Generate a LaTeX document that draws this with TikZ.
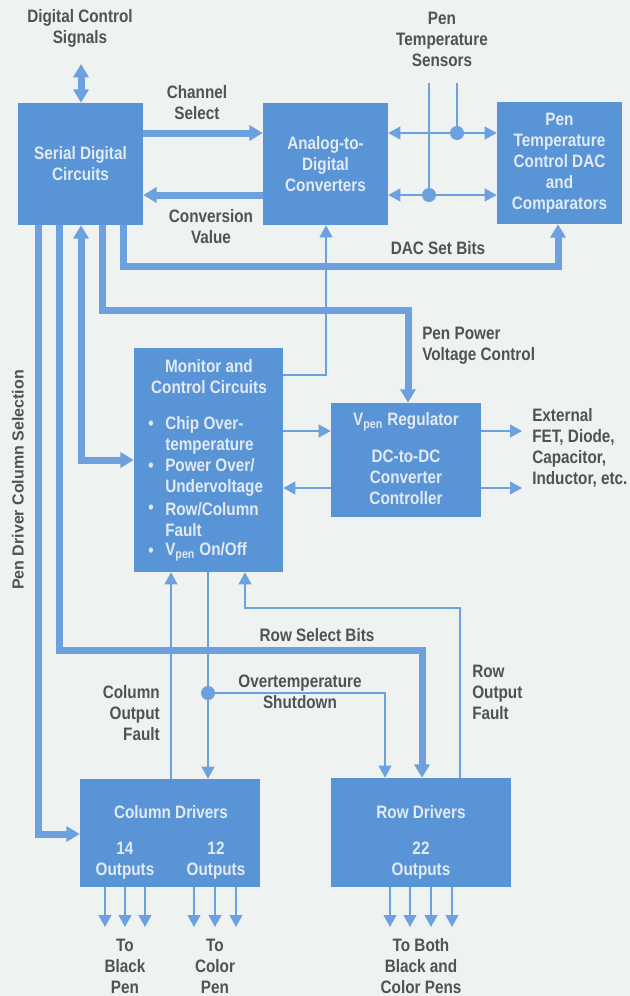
\documentclass[tikz,border=0pt]{standalone}
\usepackage{fontspec}
\setmainfont{Liberation Sans}[FakeStretch=0.85]
\newfontfamily\sidefont{Liberation Sans}
\usetikzlibrary{arrows.meta}
\definecolor{paper}{RGB}{238,243,242}
\definecolor{boxblue}{RGB}{88,148,214}
\definecolor{lineblue}{RGB}{108,160,222}
\definecolor{boxtext}{RGB}{226,234,244}
\definecolor{ink}{RGB}{80,82,86}

\begin{document}
\begin{tikzpicture}[x=.75pt, y=-.75pt,
  every node/.style={font=\bfseries\fontsize{13.5}{15.75}\selectfont, text=ink, align=center, inner sep=0pt},
  box/.style={rectangle, fill=boxblue, text=boxtext},
  intext/.style={text=boxtext},
  bus/.style={draw=lineblue, line width=5.25pt, >={Triangle[width=11.25pt,length=10pt]}},
  wire/.style={draw=lineblue, line width=1.5pt, >={Triangle[width=9.5pt,length=9pt]}},
  dot/.style={circle, fill=lineblue, minimum size=10.5pt}]
\path[use as bounding box, fill=paper] (0,0) rectangle (630,996);

\node[box, minimum width=93.75pt, minimum height=91.5pt] (sdc) at (80.5,164) {Serial Digital\\Circuits};
\node[box, minimum width=93.75pt, minimum height=91.5pt] (adc) at (325.5,164) {Analog-to-\\Digital\\Converters};
\node[box, minimum width=93.75pt, minimum height=91.5pt] (dac) at (559.5,163) {Pen\\Temperature\\Control DAC\\and\\Comparators};
\node[box, minimum width=111.75pt, minimum height=168pt] (mon) at (208.5,460) {};
\node[box, minimum width=112.5pt, minimum height=85.5pt] (vpen) at (406,460) {};
\node[box, minimum width=135pt, minimum height=81pt] (coldrv) at (170,833) {};
\node[box, minimum width=135pt, minimum height=81.75pt] (rowdrv) at (421,832.5) {};

\node[intext] (montitle) at (209,377) {Monitor and\\Control Circuits};
\node[intext] (bul1) at (151,425) {\textbullet};
\node[intext, anchor=west, align=left] (item1) at (165,435) {Chip Over-\\temperature};
\node[intext] (bul2) at (151,467) {\textbullet};
\node[intext, anchor=west, align=left] (item2) at (165,477.5) {Power Over/\\Undervoltage};
\node[intext] (bul3) at (151,509) {\textbullet};
\node[intext, anchor=west, align=left] (item3) at (165,519.5) {Row/Column\\Fault};
\node[intext] (bul4) at (151,552) {\textbullet};
\node[intext, anchor=west, align=left] (item4) at (165,552) {V\textsubscript{pen} On/Off};
\node[intext] (vpentitle) at (406,422) {V\textsubscript{pen} Regulator};
\node[intext] (vpensub) at (406,477.5) {DC-to-DC\\Converter\\Controller};
\node[intext] (coltitle) at (171,812) {Column Drivers};
\node[intext] (col14) at (125,861) {14\\Outputs};
\node[intext] (col12) at (216,861) {12\\Outputs};
\node[intext] (rowtitle) at (421,812) {Row Drivers};
\node[intext] (row22) at (421,861) {22\\Outputs};

\node (dcs) at (80,28.5) {Digital Control\\Signals};
\node (chsel) at (197,102.5) {Channel\\Select};
\node (convval) at (211,226.5) {Conversion\\Value};
\node (pts) at (442,39) {Pen\\Temperature\\Sensors};
\node (dacbits) at (438,248) {DAC Set Bits};
\node[anchor=west, align=left] (ppvc) at (422,346) {Pen Power\\Voltage Control};
\node[anchor=west, align=left] (ext) at (532,447.5) {External\\FET, Diode,\\Capacitor,\\Inductor, etc.};
\node[rotate=90, font=\sidefont\bfseries\fontsize{12}{14}\selectfont] (pdcs) at (18,480) {Pen Driver Column Selection};
\node (rsb) at (317,635) {Row Select Bits};
\node[anchor=east, align=right] (cof) at (160,713) {Column\\Output\\Fault};
\node (ots) at (300,692) {Overtemperature\\Shutdown};
\node[anchor=west, align=left] (rof) at (472,692) {Row\\Output\\Fault};
\node (toblack) at (125,966) {To\\Black\\Pen};
\node (tocolor) at (215,966) {To\\Color\\Pen};
\node (toboth) at (421,966) {To Both\\Black and\\Color Pens};

\node[dot] (dotA) at (457,133) {};
\node[dot] (dotB) at (429,195) {};
\node[dot] (dotC) at (208,693) {};

\coordinate (dcsA) at (81,64);
\coordinate (ch) at (200,133);
\coordinate (cv) at (200,195);
\coordinate (sensA) at (457,83);
\coordinate (sensB) at (429,83);
\coordinate (dacA) at (123,266);
\coordinate (dacB) at (558,266);
\coordinate (ppA) at (102,310);
\coordinate (ppB) at (408,310);
\coordinate (adA) at (326,375);
\coordinate (ctlA) at (81,460);
\coordinate (vo1) at (522,431);
\coordinate (vo2) at (522,488);
\coordinate (csA) at (38,834);
\coordinate (rsA) at (59,650);
\coordinate (rsB) at (422,650);
\coordinate (cofA) at (171,700);
\coordinate (otA) at (385,693);
\coordinate (rofA) at (245,608);
\coordinate (rofB) at (460,608);
\coordinate (b1) at (105,927);
\coordinate (b2) at (125,927);
\coordinate (b3) at (145,927);
\coordinate (c1) at (194,927);
\coordinate (c2) at (215,927);
\coordinate (c3) at (236,927);
\coordinate (r1) at (390,927);
\coordinate (r2) at (410,927);
\coordinate (r3) at (431,927);
\coordinate (r4) at (452,927);

\draw[bus, <->] (dcsA) -- (sdc.north -| dcsA);
\draw[bus, ->] (sdc.east |- ch) -- (adc.west |- ch);
\draw[bus, ->] (adc.west |- cv) -- (sdc.east |- cv);
\draw[wire] (sensA) -- (dotA);
\draw[wire] (sensB) -- (dotB);
\draw[wire, <->] (adc.east |- dotA) -- (dac.west |- dotA);
\draw[wire, <->] (adc.east |- dotB) -- (dac.west |- dotB);
\draw[bus, ->] (sdc.south -| dacA) -- (dacA) -- (dacB) -- (dac.south -| dacB);
\draw[bus, ->] (sdc.south -| ppA) -- (ppA) -- (ppB) -- (vpen.north -| ppB);
\draw[wire, ->] (mon.east |- adA) -- (adA) -- (adc.south -| adA);
\draw[bus, <->] (sdc.south -| ctlA) -- (ctlA) -- (mon.west |- ctlA);
\draw[wire, ->] (mon.east |- vo1) -- (vpen.west |- vo1);
\draw[wire, ->] (vpen.west |- vo2) -- (mon.east |- vo2);
\draw[wire, ->] (vpen.east |- vo1) -- (vo1);
\draw[wire, ->] (vpen.east |- vo2) -- (vo2);
\draw[bus, ->] (sdc.south -| csA) -- (csA) -- (coldrv.west |- csA);
\draw[bus, ->] (sdc.south -| rsA) -- (rsA) -- (rsB) -- (rowdrv.north -| rsB);
\draw[wire, ->] (coldrv.north -| cofA) -- (mon.south -| cofA);
\draw[wire, ->] (mon.south -| dotC) -- (coldrv.north -| dotC);
\draw[wire, ->] (dotC) -- (otA) -- (rowdrv.north -| otA);
\draw[wire, ->] (rowdrv.north -| rofB) -- (rofB) -- (rofA) -- (mon.south -| rofA);
\draw[wire, ->] (coldrv.south -| b1) -- (b1);
\draw[wire, ->] (coldrv.south -| b2) -- (b2);
\draw[wire, ->] (coldrv.south -| b3) -- (b3);
\draw[wire, ->] (coldrv.south -| c1) -- (c1);
\draw[wire, ->] (coldrv.south -| c2) -- (c2);
\draw[wire, ->] (coldrv.south -| c3) -- (c3);
\draw[wire, ->] (rowdrv.south -| r1) -- (r1);
\draw[wire, ->] (rowdrv.south -| r2) -- (r2);
\draw[wire, ->] (rowdrv.south -| r3) -- (r3);
\draw[wire, ->] (rowdrv.south -| r4) -- (r4);
\end{tikzpicture}
\end{document}
